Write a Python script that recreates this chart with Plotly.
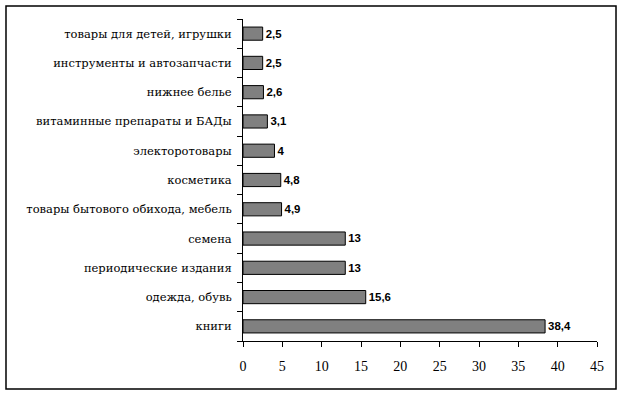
import plotly.graph_objects as go

categories = [
    "книги",
    "одежда, обувь",
    "периодические издания",
    "семена",
    "товары бытового обихода, мебель",
    "косметика",
    "электоротовары",
    "витаминные препараты и БАДы",
    "нижнее белье",
    "инструменты и автозапчасти",
    "товары для детей, игрушки",
]
values = [38.4, 15.6, 13, 13, 4.9, 4.8, 4, 3.1, 2.6, 2.5, 2.5]
x_ticks = [0, 5, 10, 15, 20, 25, 30, 35, 40, 45]

labels = [("%g" % v).replace(".", ",") for v in values]

SERIF = "Liberation Serif, serif"
YSERIF = "DejaVu Serif"

fig = go.Figure(
    go.Bar(
        x=values,
        y=categories,
        orientation="h",
        width=0.45,
        marker=dict(color="#808080", line=dict(color="#000000", width=1)),
        text=labels,
        textposition="outside",
        textfont=dict(family="Liberation Sans", size=13, color="#000000", weight="bold"),
        cliponaxis=False,
        hoverinfo="skip",
    )
)

fig.update_layout(
    width=624,
    height=396,
    margin=dict(l=243, r=27, t=19, b=55),
    paper_bgcolor="white",
    plot_bgcolor="white",
    showlegend=False,
    font=dict(family=SERIF, size=14, color="#000000"),
    xaxis=dict(
        range=[0, 45],
        tickmode="array",
        tickvals=x_ticks,
        ticktext=[str(t) for t in x_ticks],
        showgrid=False,
        zeroline=False,
        showline=True,
        linecolor="#000000",
        linewidth=1,
        ticks="outside",
        ticklen=5,
        tickcolor="#000000",
        ticklabelstandoff=7,
        tickfont=dict(family=SERIF, size=14),
    ),
    yaxis=dict(
        showgrid=False,
        zeroline=False,
        showline=True,
        linecolor="#000000",
        linewidth=1,
        ticks="outside",
        ticklen=5,
        tickcolor="#000000",
        tickson="boundaries",
        ticklabelstandoff=8,
        tickfont=dict(family=YSERIF, size=11.5),
    ),
    shapes=[
        dict(
            type="rect",
            xref="paper",
            yref="paper",
            x0=-0.6695,
            x1=1.0537,
            y0=-0.149,
            y1=1.0404,
            line=dict(color="#000000", width=1.5),
            fillcolor="rgba(0,0,0,0)",
        )
    ],
)

fig.write_html(
    "out.html",
    config={"displayModeBar": False},
    post_script="document.body.style.margin='0';document.body.style.overflow='hidden';",
)
